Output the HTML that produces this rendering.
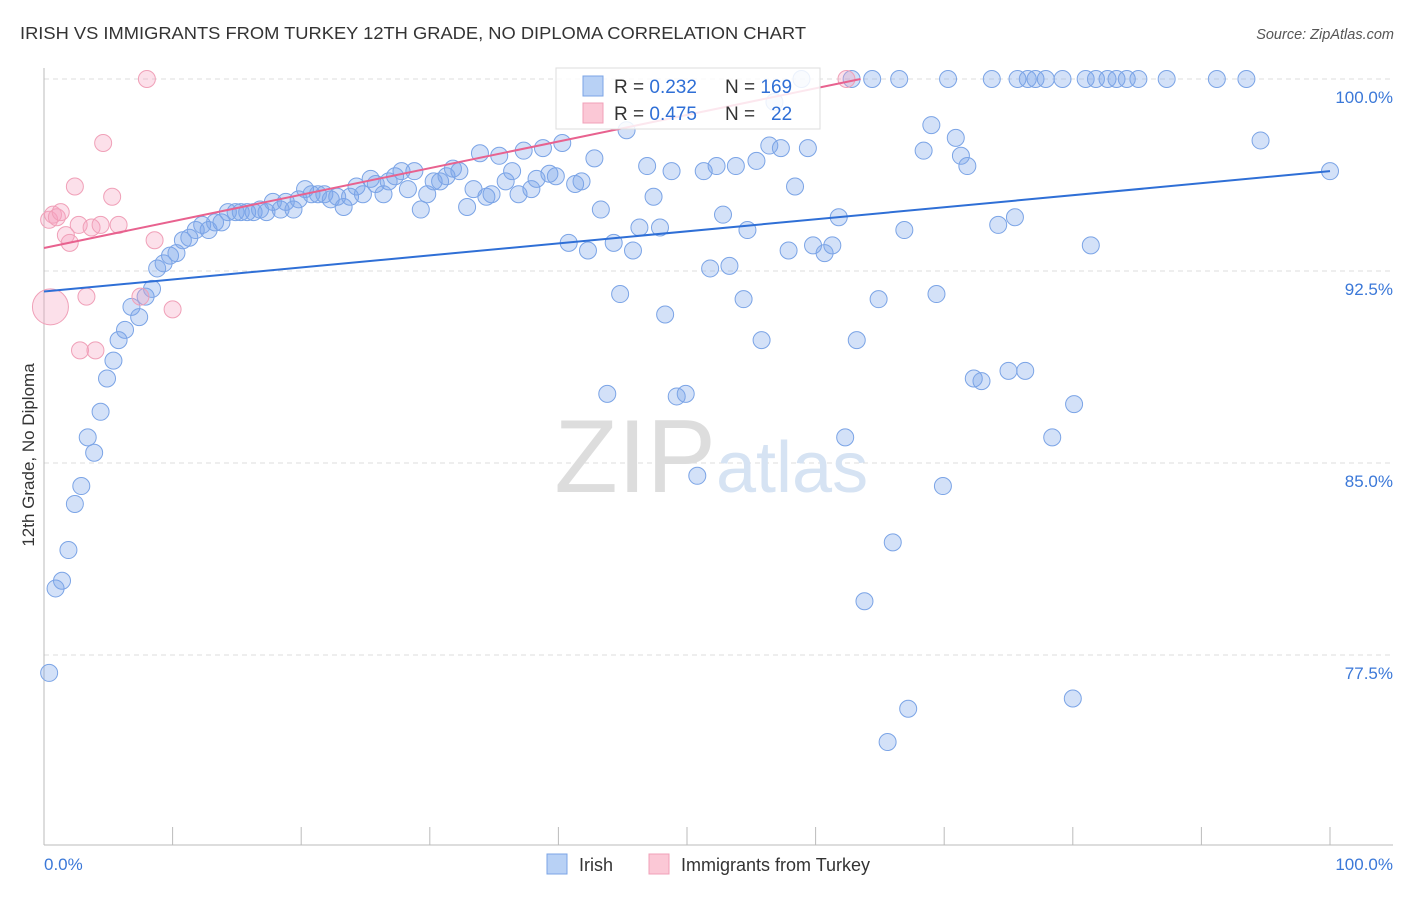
<!DOCTYPE html>
<html><head><meta charset="utf-8"><style>
body{margin:0;background:#fff;font-family:"Liberation Sans",sans-serif;}
svg text{font-family:"Liberation Sans",sans-serif;}
</style></head><body>
<svg id="chart" width="1406" height="892" xmlns="http://www.w3.org/2000/svg">
<text x="20" y="39" font-size="17.5" fill="#333" textLength="786" lengthAdjust="spacingAndGlyphs">IRISH VS IMMIGRANTS FROM TURKEY 12TH GRADE, NO DIPLOMA CORRELATION CHART</text>
<text x="1394" y="39" font-size="14.5" fill="#555" text-anchor="end" font-style="italic">Source: ZipAtlas.com</text>
<g id="grid"></g>
<text x="716" y="492" font-size="104" fill="#ddd" text-anchor="end" font-family="Liberation Serif">ZIP</text>
<text x="716" y="492" font-size="72" fill="#d6e3f3">atlas</text>
<g id="axes"></g>
<g id="marks"></g>
<text transform="translate(34,455) rotate(-90)" font-size="17" fill="#333" text-anchor="middle">12th Grade, No Diploma</text>
<g>
<rect x="556" y="68" width="264" height="61" fill="#fff" fill-opacity="0.85" stroke="#ddd"/>
<rect x="583" y="76" width="20" height="20" fill="#b8d1f5" stroke="#7ba4e6"/>
<rect x="583" y="103" width="20" height="20" fill="#fbc8d6" stroke="#f0a0b8"/>
<text x="614" y="93" font-size="19" fill="#333">R = <tspan fill="#2f6fd6">0.232</tspan><tspan x="725">N = </tspan><tspan fill="#2f6fd6">169</tspan></text>
<text x="614" y="120" font-size="19" fill="#333">R = <tspan fill="#2f6fd6">0.475</tspan><tspan x="725">N = </tspan><tspan x="771" fill="#2f6fd6">22</tspan></text>
</g>
<g>
<rect x="547" y="854" width="20" height="20" fill="#b8d1f5" stroke="#7ba4e6"/>
<text x="579" y="871" font-size="18" fill="#333">Irish</text>
<rect x="649" y="854" width="20" height="20" fill="#fbc8d6" stroke="#f0a0b8"/>
<text x="681" y="871" font-size="18" fill="#333">Immigrants from Turkey</text>
</g>
</svg>
<script>
const yTicks=[100,92.5,85,77.5];
const yTickLabels=["100.0%","92.5%","85.0%","77.5%"];
const xTickLabels=["0.0%","100.0%"];
const irishX=[0.4,0.9,1.4,1.9,2.4,2.9,3.4,3.9,4.4,4.9,5.4,5.8,6.3,6.8,7.4,7.9,8.4,8.8,9.3,9.8,10.3,10.8,11.3,11.8,12.3,12.8,13.3,13.8,14.3,14.9,15.3,15.8,16.3,16.8,17.3,17.8,18.4,18.8,19.4,19.8,20.3,20.8,21.3,21.8,22.3,22.8,23.3,23.8,24.3,24.8,25.4,25.8,26.4,26.8,27.3,27.8,28.3,28.8,29.3,29.8,30.3,30.8,31.3,31.8,32.3,32.9,33.4,33.9,34.4,34.8,35.4,35.9,36.4,36.9,37.3,37.9,38.3,38.8,39.3,39.8,40.3,40.8,41.3,41.8,42.3,42.8,43.3,43.8,44.3,44.8,45.3,45.8,46.3,46.9,47.4,47.9,48.3,48.8,49.2,49.9,50.8,51.3,51.8,52.3,52.8,53.3,53.8,54.4,54.7,55.4,55.8,56.4,56.8,57.3,57.9,58.4,58.9,59.4,59.8,60.7,61.3,61.8,62.3,62.8,63.2,63.8,64.4,64.9,65.6,66.0,66.5,66.9,67.2,68.4,69.0,69.4,69.9,70.3,70.9,71.3,71.8,72.3,72.9,73.7,74.2,75.0,75.5,75.7,76.3,76.5,77.1,77.9,78.4,79.2,80.1,80.0,81.0,81.4,81.8,82.7,83.4,84.2,85.1,87.3,91.2,93.5,94.6,100];
const irishY=[76.8,80.1,80.4,81.6,83.4,84.1,86.0,85.4,87.0,88.3,89.0,89.8,90.2,91.1,90.7,91.5,91.8,92.6,92.8,93.1,93.2,93.7,93.8,94.1,94.3,94.1,94.4,94.4,94.8,94.8,94.8,94.8,94.8,94.9,94.8,95.2,94.9,95.2,94.9,95.3,95.7,95.5,95.5,95.5,95.3,95.4,95.0,95.4,95.8,95.5,96.1,95.9,95.5,96.0,96.2,96.4,95.7,96.4,94.9,95.5,96.0,96.0,96.2,96.5,96.4,95.0,95.7,97.1,95.4,95.5,97.0,96.0,96.4,95.5,97.2,95.7,96.1,97.3,96.3,96.2,97.5,93.6,95.9,96.0,93.3,96.9,94.9,87.7,93.6,91.6,98.0,93.3,94.2,96.6,95.4,94.2,90.8,96.4,87.6,87.7,84.5,96.4,92.6,96.6,94.7,92.7,96.6,91.4,94.1,96.8,89.8,97.4,99.1,97.3,93.3,95.8,100,97.3,93.5,93.2,93.5,94.6,86.0,100,89.8,79.6,100,91.4,74.1,81.9,100,94.1,75.4,97.2,98.2,91.6,84.1,100,97.7,97.0,96.6,88.3,88.2,100,94.3,88.6,94.6,100,88.6,100,100,100,86.0,100,87.3,75.8,100,93.5,100,100,100,100,100,100,100,100,97.6,96.4];
const turkX=[0.4,0.7,1.0,1.3,1.7,2.0,2.4,2.7,3.3,3.7,2.8,4.0,4.4,4.6,5.3,5.8,8.0,8.6,10.0,62.4,7.5,0.5];
const turkY=[94.5,94.7,94.6,94.8,93.9,93.6,95.8,94.3,91.5,94.2,89.4,89.4,94.3,97.5,95.4,94.3,100,93.7,91.0,100,91.5,91.1];
const irishTrend=[91.7,96.4]; // at x=0 and x=100
const turkTrend=[93.4,100]; // at x=0 and x=63.5
const turkTrendEnd=63.5;
const NS="http://www.w3.org/2000/svg";
const X0=44,X1=1330,YT=79,PX=25.6;
const sx=v=>X0+(X1-X0)*v/100;
const sy=v=>YT+(100-v)*PX;
function mk(tag,attrs,parent){const e=document.createElementNS(NS,tag);for(const k in attrs)e.setAttribute(k,attrs[k]);parent.appendChild(e);return e;}
const grid=document.getElementById('grid'),axes=document.getElementById('axes'),marks=document.getElementById('marks');
yTicks.forEach((t,i)=>{
 const l=mk('line',{x1:X0,x2:1393,y1:sy(t),y2:sy(t),stroke:'#ddd','stroke-dasharray':'5,4'},grid);
 
 
 const tx=mk('text',{x:1393,y:sy(t)+24,'font-size':17,fill:'#3b78d8','text-anchor':'end'},axes);
 tx.textContent=yTickLabels[i];
 
 
});
mk('line',{x1:X0,x2:X0,y1:68,y2:845,stroke:'#bbb'},axes);
mk('line',{x1:X0,x2:1393,y1:845,y2:845,stroke:'#bbb'},axes);
for(let i=0;i<=10;i++){const t=mk('line',{x1:sx(i*10),x2:sx(i*10),y1:827,y2:845,stroke:'#bbb'},axes);
 
 }
const xl0=mk('text',{x:44,y:870,'font-size':17,fill:'#3b78d8'},axes);xl0.textContent=xTickLabels[0];


const xl1=mk('text',{x:1393,y:870,'font-size':17,fill:'#3b78d8','text-anchor':'end'},axes);xl1.textContent=xTickLabels[1];


irishX.forEach((x,i)=>{const c=mk('circle',{cx:sx(x),cy:sy(irishY[i]),r:8.5,fill:'rgba(120,165,235,0.33)',stroke:'#7ba4e6','stroke-width':1},marks);
 
 });
turkX.forEach((x,i)=>{const c=mk('circle',{cx:sx(x),cy:sy(turkY[i]),r:i==turkX.length-1?18:8.5,fill:'rgba(245,160,190,0.33)',stroke:'#f0a0b8','stroke-width':1},marks);
 
 });
const bl=mk('line',{x1:sx(0),y1:sy(irishTrend[0]),x2:sx(100),y2:sy(irishTrend[1]),stroke:'#2f6fd6','stroke-width':2},marks);


const pl=mk('line',{x1:sx(0),y1:sy(turkTrend[0]),x2:sx(turkTrendEnd),y2:sy(turkTrend[1]),stroke:'#e8628f','stroke-width':2},marks);


</script>
</body></html>
